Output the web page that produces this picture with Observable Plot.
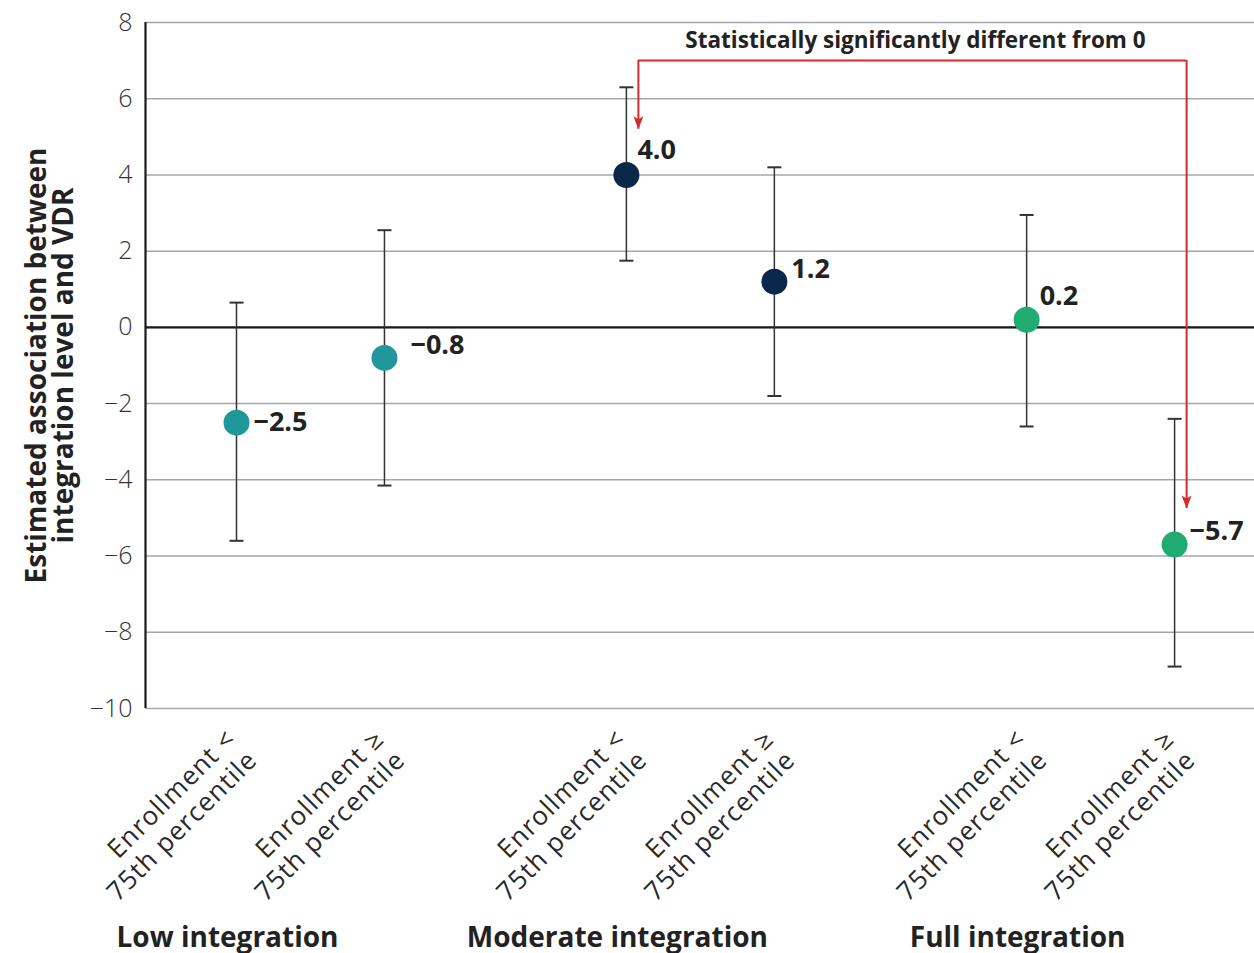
<!DOCTYPE html>
<html>
<head>
<meta charset="utf-8">
<script src="https://cdn.jsdelivr.net/npm/d3@7"></script>
<script src="https://cdn.jsdelivr.net/npm/@observablehq/plot@0.6"></script>
<style>
  html, body { margin: 0; padding: 0; background: #fff; }
  #chart svg { display: block; }
</style>
</head>
<body>
<div id="chart"></div>
<script>
// ---- data ----
const categories = [
  "Enrollment <\n75th percentile", "Enrollment ≥\n75th percentile",
  "Enrollment <\n75th percentile", "Enrollment ≥\n75th percentile",
  "Enrollment <\n75th percentile", "Enrollment ≥\n75th percentile"
];
const groupNames = ["Low integration", "Moderate integration", "Full integration"];
const groupOf = [0, 0, 1, 1, 2, 2];
const estimates = [-2.5, -0.8, 4.0, 1.2, 0.2, -5.7];
const lowerCI = [-5.6, -4.15, 1.75, -1.8, -2.6, -8.9];
const upperCI = [0.65, 2.55, 6.3, 4.2, 2.95, -2.4];
const estimateLabels = ["−2.5", "−0.8", "4.0", "1.2", "0.2", "−5.7"];
const significantIdx = [2, 5];
const annotationText = "Statistically significantly different from 0";
const yTicks = [-10, -8, -6, -4, -2, 0, 2, 4, 6, 8];

// ---- layout / style ----
const groupStart = [0, 2.635, 5.34];
const groupColors = ["#20979b", "#0a2849", "#1fab72"];
const labelDx = [17, 26, 11, 17, 13, 15];
const labelDy = [0, -13, -25, -12, -23, -13];
const bracketLevel = 7.0;
const arrowTips = [5.2, -4.75];
const red = "#d62b2b";
const FONT = "'Open Sans', 'DejaVu Sans', sans-serif";

const rows = estimates.map((v, i) => ({
  pos: groupStart[groupOf[i]] + (i % 2),
  est: v,
  lo: lowerCI[i],
  hi: upperCI[i],
  label: estimateLabels[i],
  cat: categories[i],
  color: groupColors[groupOf[i]],
  dx: labelDx[i],
  dy: labelDy[i]
}));
const xDomain = [-0.615, 6.88];

const capSymbol = {
  draw(ctx, size) {
    const r = Math.sqrt(size / Math.PI);
    ctx.moveTo(-r, 0);
    ctx.lineTo(r, 0);
  }
};
const headSymbol = {
  draw(ctx, size) {
    ctx.moveTo(0, 0);
    ctx.lineTo(-5, -13);
    ctx.lineTo(0, -10);
    ctx.lineTo(5, -13);
    ctx.closePath();
  }
};

const sigRows = significantIdx.map((i, k) => ({pos: rows[i].pos, tip: arrowTips[k]}));
const bracket = [{x1: sigRows[0].pos, x2: sigRows[1].pos}];

const chart = Plot.plot({
  width: 1254,
  height: 953,
  marginLeft: 145,
  marginRight: 0,
  marginTop: 22,
  marginBottom: 245,
  style: {fontFamily: FONT, color: "#333", background: "#fff", overflow: "visible"},
  x: {type: "linear", domain: xDomain, axis: null},
  y: {domain: [-10, 8], ticks: yTicks},
  marks: [
    Plot.ruleY(yTicks, {stroke: "#a3a7ad", strokeWidth: 1.5}),
    Plot.ruleY([0], {stroke: "#1a1a1a", strokeWidth: 2.2}),
    Plot.ruleX([xDomain[0]], {y1: -10, y2: 8, stroke: "#1a1a1a", strokeWidth: 2.2}),
    Plot.axisY({ticks: yTicks, tickSize: 0, tickPadding: 13, fontSize: 25, fontWeight: 300, tickFormat: d3.format("d"), label: null}),
    // y-axis title
    Plot.text(["Estimated association between\nintegration level and VDR"], {
      frameAnchor: "left", textAnchor: "middle", lineAnchor: "middle", dx: -95, rotate: -90,
      fontSize: 28, fontWeight: "bold", fill: "#222", lineHeight: 0.97
    }),
    // error bars
    Plot.ruleX(rows, {x: "pos", y1: "lo", y2: "hi", stroke: "#333", strokeWidth: 1.5}),
    Plot.dot(rows, {x: "pos", y: "lo", symbol: capSymbol, r: 7, stroke: "#333", strokeWidth: 2, fill: "none"}),
    Plot.dot(rows, {x: "pos", y: "hi", symbol: capSymbol, r: 7, stroke: "#333", strokeWidth: 2, fill: "none"}),
    // annotation bracket
    Plot.ruleY(bracket, {x1: "x1", x2: "x2", y: () => bracketLevel, dx: 12, stroke: red, strokeWidth: 2}),
    Plot.ruleX(sigRows, {x: "pos", y1: () => bracketLevel, y2: "tip", dx: 12, stroke: red, strokeWidth: 2}),
    Plot.dot(sigRows, {x: "pos", y: "tip", dx: 12, symbol: headSymbol, r: 5, fill: red, stroke: "none"}),
    Plot.text([annotationText], {
      x: () => (sigRows[0].pos + sigRows[1].pos) / 2, y: () => bracketLevel,
      dx: 15, dy: -20, fontSize: 22.5, fontWeight: "bold", fill: "#222"
    }),
    // points
    Plot.dot(rows, {x: "pos", y: "est", r: 13, fill: "color", stroke: "none"}),
    // value labels
    ...rows.map(d => Plot.text([d], {
      x: "pos", y: "est", text: "label", dx: d.dx, dy: d.dy, textAnchor: "start",
      fontSize: 27, fontWeight: "bold", fill: "#222"
    })),
    // x category labels
    Plot.text(rows, {
      x: "pos", frameAnchor: "bottom", text: "cat", rotate: -45, textAnchor: "end", lineAnchor: "top",
      dx: -14, dy: 17, fontSize: 26, fontWeight: 400, fill: "#2a2a2a", lineHeight: 1.15
    }),
    // group labels
    Plot.text(groupNames, {
      x: (d, i) => groupStart[i], frameAnchor: "bottom", dy: 238, dx: -9,
      fontSize: 28, fontWeight: "bold", fill: "#222"
    })
  ]
});
d3.select(chart).selectAll("text")
  .filter(function () { return this.textContent.includes("Enrollment"); })
  .style("letter-spacing", "1.1px");
document.getElementById("chart").appendChild(chart);
</script>
</body>
</html>
